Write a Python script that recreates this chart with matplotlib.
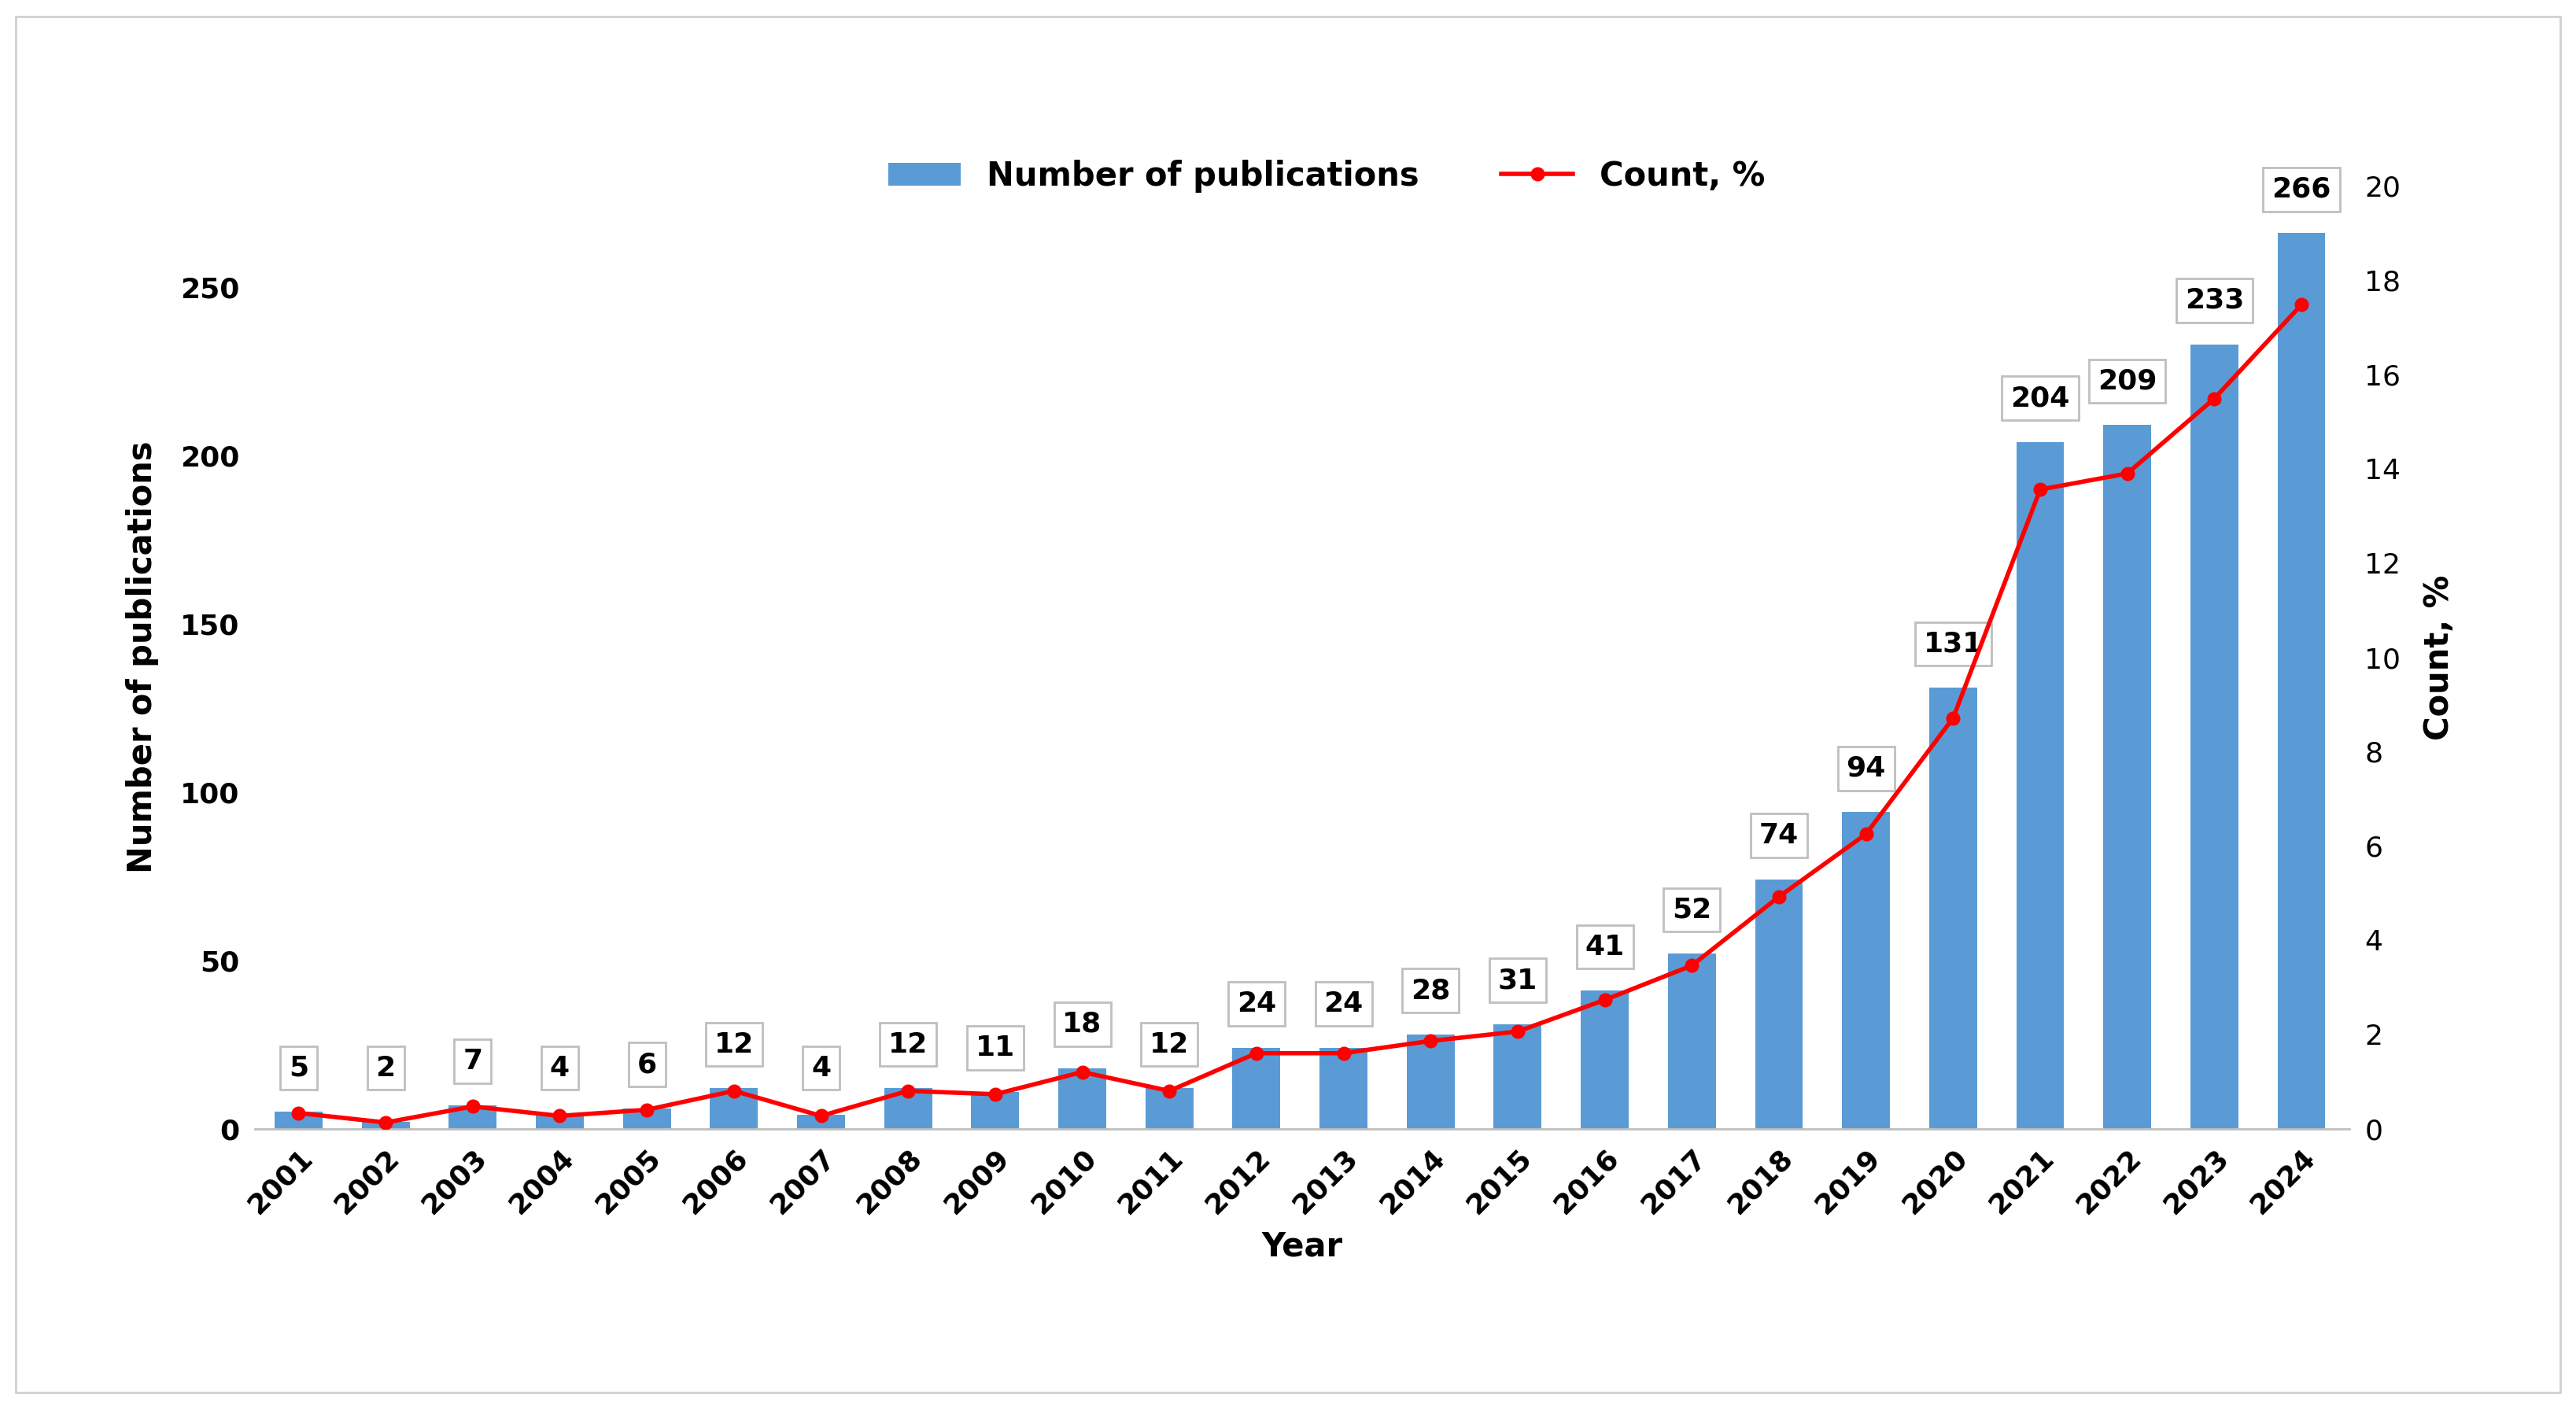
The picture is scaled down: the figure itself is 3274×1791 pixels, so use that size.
import matplotlib
matplotlib.use("Agg")
import matplotlib.pyplot as plt
from matplotlib.patches import Rectangle
import numpy as np

years = [str(y) for y in range(2001, 2025)]
counts = [5, 2, 7, 4, 6, 12, 4, 12, 11, 18, 12, 24, 24, 28, 31, 41, 52, 74, 94, 131, 204, 209, 233, 266]
percent = [0.33, 0.13, 0.47, 0.27, 0.40, 0.80, 0.27, 0.80, 0.73, 1.20, 0.80, 1.60, 1.60, 1.86,
           2.06, 2.73, 3.46, 4.92, 6.25, 8.71, 13.56, 13.90, 15.49, 17.48]

plt.rcParams["font.family"] = "DejaVu Sans"
fig = plt.figure(figsize=(32.74, 17.91), dpi=100)
fig.patches.append(Rectangle((0.006, 0.012), 0.988, 0.976, transform=fig.transFigure,
                             fill=False, edgecolor="#d0d0d0", linewidth=2))
ax = fig.add_axes([0.099, 0.199, 0.813, 0.669])
x = np.arange(len(years))
bars = ax.bar(x, counts, width=0.55, color="#5b9bd5", label="Number of publications", zorder=2)
ax.set_xlim(-0.5, 23.55)
ax.set_ylim(0, 280)
ax.set_yticks([0, 50, 100, 150, 200, 250])
ax.set_xticks(x)
ax.set_xticklabels(years, rotation=45, ha="right", rotation_mode="anchor")
for s in ["top", "right", "left"]:
    ax.spines[s].set_visible(False)
ax.spines["bottom"].set_color("#bfbfbf")
ax.spines["bottom"].set_linewidth(2)
ax.tick_params(axis="both", length=0, labelsize=26, pad=14)
for t in ax.get_xticklabels() + ax.get_yticklabels():
    t.set_fontweight("bold")
ax.set_xlabel("Year", fontsize=30, fontweight="bold", labelpad=10)
ax.set_ylabel("Number of publications", fontsize=30, fontweight="bold", labelpad=20)

ax2 = ax.twinx()
ax2.plot(x, percent, color="#ff0000", linewidth=4, marker="o", markersize=12,
         label="Count, %", zorder=3)
ax2.set_ylim(0, 20)
ax2.set_yticks(range(0, 21, 2))
for s in ["top", "right", "left", "bottom"]:
    ax2.spines[s].set_visible(False)
ax2.tick_params(axis="y", length=0, labelsize=26, pad=14)
for t in ax2.get_yticklabels():
    t.set_fontweight("normal")
ax2.set_ylabel("Count, %", fontsize=30, fontweight="bold", labelpad=20)

for i, v in enumerate(counts):
    ly = max(v + 13, 18)
    ax.text(i, ly, str(v), ha="center", va="center", fontsize=26, fontweight="bold", zorder=5,
            bbox=dict(boxstyle="square,pad=0.3", facecolor="white", edgecolor="#bfbfbf", linewidth=2))

h1, l1 = ax.get_legend_handles_labels()
h2, l2 = ax2.get_legend_handles_labels()
leg = fig.legend(h1 + h2, l1 + l2, loc="center", bbox_to_anchor=(0.515, 0.875), ncol=2,
                 frameon=False, fontsize=30, handlelength=2.2, columnspacing=2.5)
for t in leg.get_texts():
    t.set_fontweight("bold")
fig.savefig("out.png", dpi=100)
